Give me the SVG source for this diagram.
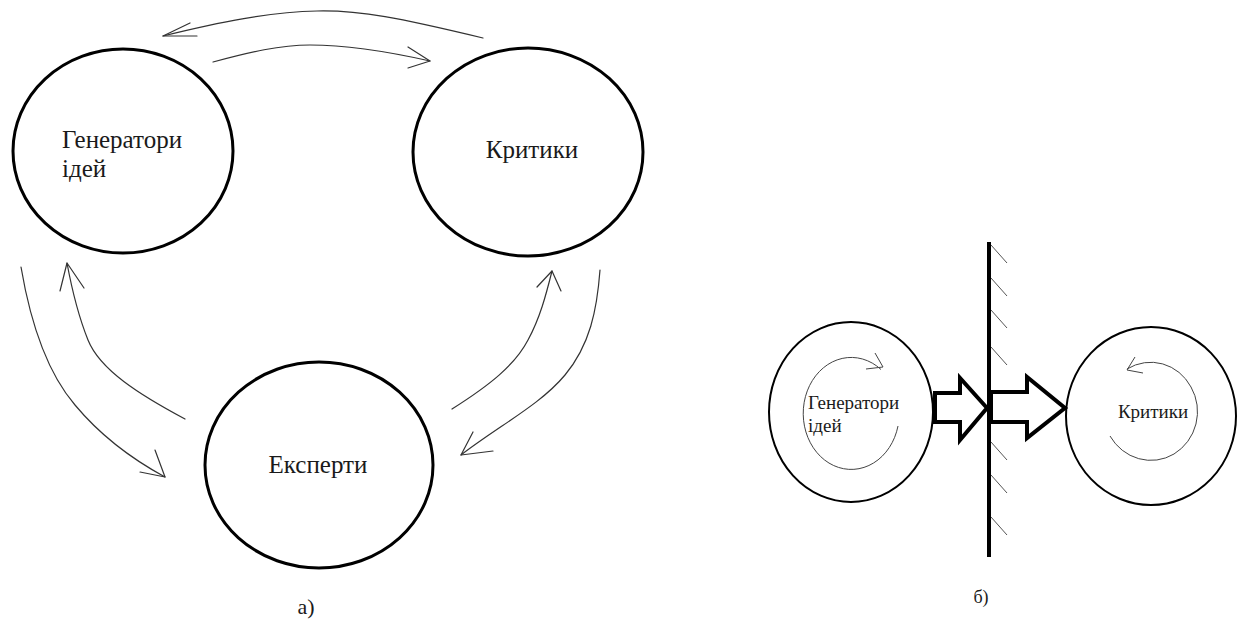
<svg xmlns="http://www.w3.org/2000/svg" width="1245" height="624" viewBox="0 0 1245 624">
  <style>
    .node-a { fill: none; stroke: #000; stroke-width: 3; }
    .node-b { fill: none; stroke: #000; stroke-width: 2; }
    .lbl { font-family: "Liberation Serif", "DejaVu Serif", "Times New Roman", serif; fill: #1a1a1a; }
    .la { font-size: 25px; }
    .lb { font-size: 19px; }
    .link { fill: none; stroke: #333; stroke-width: 1.2; stroke-linecap: round; stroke-linejoin: round; }
    .spin { fill: none; stroke: #444; stroke-width: 1; }
    .block { fill: #fff; stroke: #000; stroke-width: 4; stroke-linejoin: miter; }
    .hatch { stroke: #555; stroke-width: 1; }
  </style>
  <rect width="1245" height="624" fill="#fff"/>

  <!-- a) three groups exchanging ideas -->
  <g id="generators-a">
    <ellipse class="node-a" cx="123" cy="151" rx="110" ry="102"/>
    <text class="lbl la" x="62" y="148">Генератори</text>
    <text class="lbl la" x="62" y="177">ідей</text>
  </g>
  <g id="critics-a">
    <ellipse class="node-a" cx="528" cy="152" rx="115" ry="104"/>
    <text class="lbl la" x="532" y="158" text-anchor="middle">Критики</text>
  </g>
  <g id="experts-a">
    <ellipse class="node-a" cx="319" cy="465" rx="114" ry="103"/>
    <text class="lbl la" x="318" y="473" text-anchor="middle">Експерти</text>
  </g>

  <g id="connectors-a">
    <!-- critics to generators -->
    <path class="link" d="M483,38 C400,18 360,10 317,11 C270,12 220,22 163,36"/>
    <polyline class="link" points="190,23 163,36 197,36"/>
    <!-- generators to critics -->
    <path class="link" d="M213,62 C250,52 280,45 310,45 C350,45 390,52 430,61"/>
    <polyline class="link" points="408,47 430,61 408,68"/>
    <!-- generators to experts -->
    <path class="link" d="M21,267 C30,320 45,370 75,405 C100,435 130,458 165,477"/>
    <polyline class="link" points="155,450 165,477 140,472"/>
    <!-- experts to generators -->
    <path class="link" d="M185,419 C140,395 100,370 88,340 C78,315 72,290 67,263"/>
    <polyline class="link" points="60,291 67,263 84,288"/>
    <!-- experts to critics -->
    <path class="link" d="M452,409 C490,385 515,365 528,340 C540,318 546,295 552,271"/>
    <polyline class="link" points="537,287 552,271 561,291"/>
    <!-- critics to experts -->
    <path class="link" d="M600,270 C597,310 590,345 565,375 C540,405 500,425 461,455"/>
    <polyline class="link" points="473,432 461,455 493,451"/>
  </g>
  <text class="lbl" x="306" y="614" font-size="22" text-anchor="middle">а)</text>

  <!-- б) groups separated by a wall -->
  <g id="generators-b">
    <ellipse class="node-b" cx="851" cy="412" rx="82" ry="90"/>
    <path class="spin" d="M898,426 A48,56 0 1 1 881,369.5"/>
    <polyline class="spin" points="875,353 883,367 866,369"/>
    <text class="lbl lb" x="808" y="409">Генератори</text>
    <text class="lbl lb" x="808" y="432">ідей</text>
  </g>
  <g id="critics-b">
    <ellipse class="node-b" cx="1151" cy="416" rx="85" ry="89"/>
    <path class="spin" d="M1110,436 A47,49 0 1 0 1127,369"/>
    <polyline class="spin" points="1135,357 1127,370 1143,373"/>
    <text class="lbl lb" x="1153" y="418" text-anchor="middle">Критики</text>
  </g>
  <g id="wall">
    <line x1="989" y1="242" x2="989" y2="557" stroke="#000" stroke-width="4"/>
    <line class="hatch" x1="991" y1="245" x2="1007" y2="263"/>
    <line class="hatch" x1="991" y1="278" x2="1007" y2="296"/>
    <line class="hatch" x1="991" y1="310" x2="1007" y2="328"/>
    <line class="hatch" x1="991" y1="347" x2="1007" y2="365"/>
    <line class="hatch" x1="991" y1="442" x2="1007" y2="460"/>
    <line class="hatch" x1="991" y1="475" x2="1007" y2="493"/>
    <line class="hatch" x1="991" y1="517" x2="1007" y2="535"/>
  </g>
  <g id="connectors-b">
    <polygon class="block" points="935,393 960,393 960,378 987,408 960,440 960,422 935,422"/>
    <polygon class="block" points="991,392 1027,392 1027,377 1065,408 1027,438 1027,422 991,422"/>
  </g>
  <text class="lbl" x="981" y="603" font-size="18" text-anchor="middle">б)</text>
</svg>
